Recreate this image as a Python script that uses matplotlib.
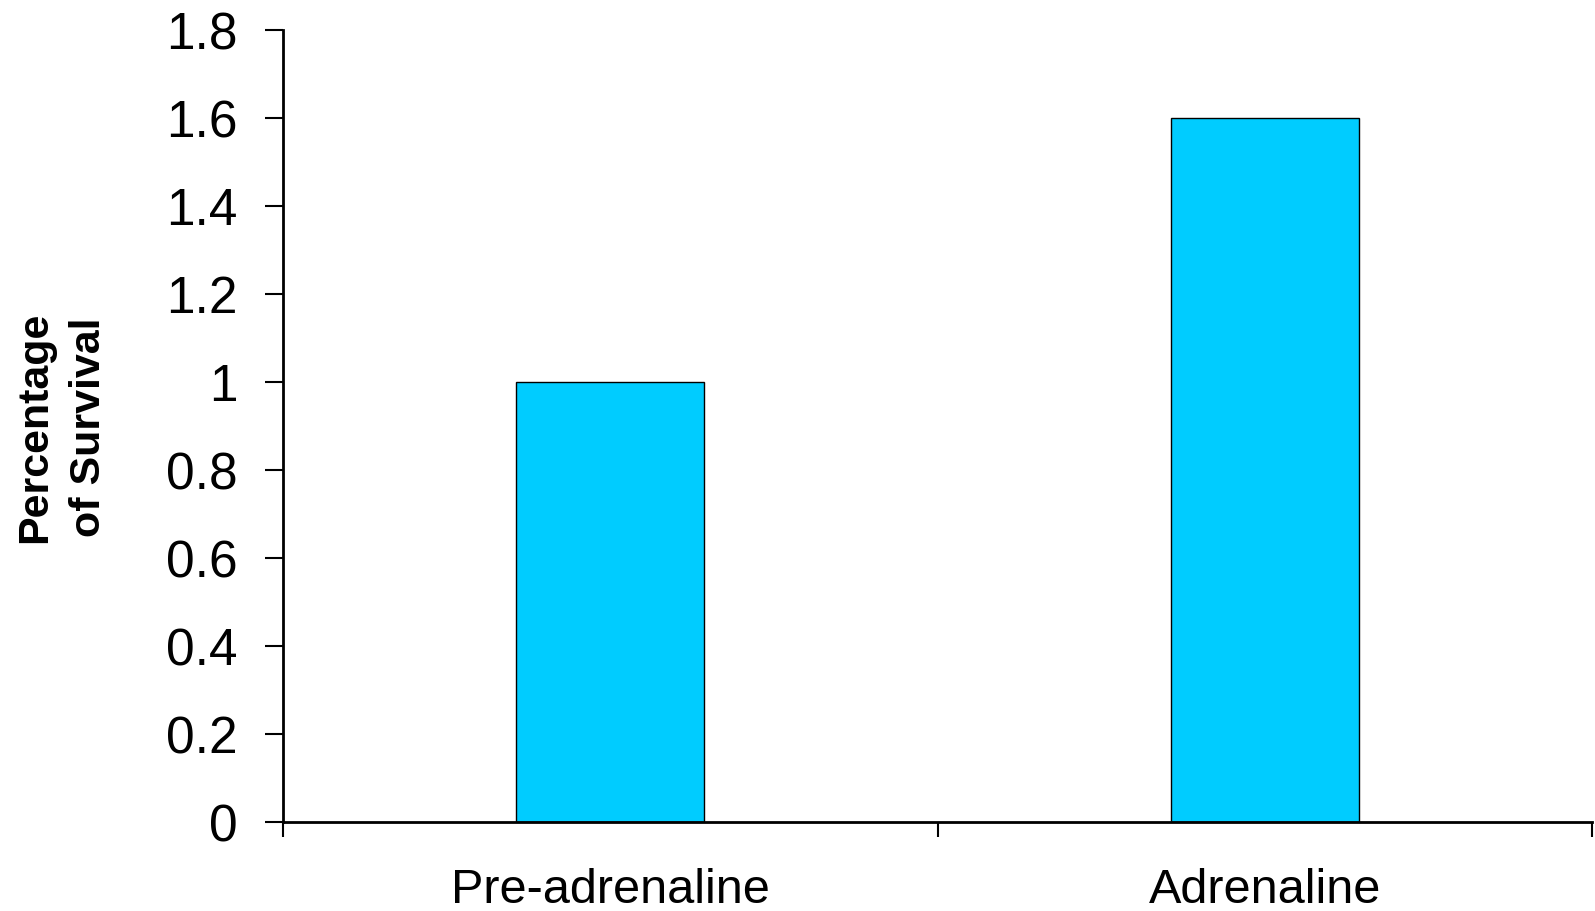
import matplotlib
matplotlib.use("Agg")
import matplotlib.pyplot as plt
from matplotlib.ticker import FuncFormatter

categories = ["Pre-adrenaline", "Adrenaline"]
survival = [1.0, 1.6]
yticks = [0, 0.2, 0.4, 0.6, 0.8, 1.0, 1.2, 1.4, 1.6, 1.8]

plt.rcParams['font.family'] = ['Liberation Sans', 'DejaVu Sans']

fig = plt.figure(figsize=(15.95, 9.11), dpi=100)
ax = fig.add_axes([283/1595, 1 - 822/911, (1592 - 283)/1595, (822 - 30)/911])

pos = [i + 0.5 for i in range(len(categories))]
ax.bar(pos, survival, width=0.287, color="#00CCFF", edgecolor="black", linewidth=1.0)

ax.set_xlim(0, len(categories))
ax.set_ylim(0, 1.8)

# major ticks on category boundaries, labels on minor ticks in the middle
ax.set_xticks(range(len(categories) + 1))
ax.set_xticklabels([])
ax.set_xticks(pos, minor=True)
ax.set_xticklabels(categories, minor=True, fontsize=35)
ax.tick_params(axis="x", which="major", direction="out", length=11, width=1.5)
ax.tick_params(axis="x", which="minor", length=0, pad=33)

ax.set_yticks(yticks)
ax.yaxis.set_major_formatter(FuncFormatter(lambda v, p: "%g" % round(v, 1)))
ax.tick_params(axis="y", direction="out", length=13, width=1.5, labelsize=37, pad=20)

for s in ["top", "right"]:
    ax.spines[s].set_visible(False)
for s in ["left", "bottom"]:
    ax.spines[s].set_linewidth(2.0)

fig.text(62/1595, 1 - 427/911, "Percentage\nof Survival", rotation=90, ha="center", va="center",
         fontsize=31, fontweight="bold", linespacing=1.45)

fig.savefig("out.png", dpi=100)
